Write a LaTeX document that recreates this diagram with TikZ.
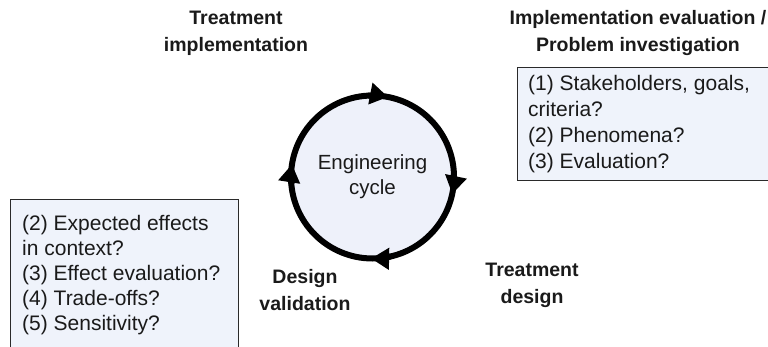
\documentclass[tikz,border=0pt]{standalone}
\usepackage{fontspec}
\setmainfont{Liberation Sans}
\usetikzlibrary{arrows.meta}
\definecolor{boxfill}{HTML}{EFF3FB}
\definecolor{cycfill}{HTML}{EEF1FA}
\definecolor{boxline}{HTML}{2A2A2A}
\definecolor{txt}{HTML}{1A1A1A}
\tikzset{
  phaselabel/.style={align=center, text=txt, inner sep=0pt, font=\bfseries\fontsize{19.5}{27}\selectfont},
  qbox/.style={draw=boxline, fill=boxfill, line width=1.2pt, inner sep=0pt, anchor=north west},
  qtext/.style={align=left, text=txt, inner sep=0pt, anchor=north west},
  cycarrow/.style={line width=6pt, draw=black, -{Triangle[length=18pt,width=21pt]}},
}
\begin{document}
\begin{tikzpicture}[x=1pt,y=1pt]
\useasboundingbox (0,0) rectangle (768,346);
% boxes
\node[qbox, minimum width=228pt, minimum height=170pt] (lbox) at (10,147) {};
\node[qbox, minimum width=252pt, minimum height=113pt] (rbox) at (517,279) {};
\node[qtext, font=\fontsize{21}{25}\selectfont] (ltext) at (22,131.3)
  {(2) Expected effects\\in context?\\(3) Effect evaluation?\\(4) Trade-offs?\\(5) Sensitivity?};
\node[qtext, font=\fontsize{21}{26}\selectfont] (rtext) at (528,270.8)
  {(1) Stakeholders, goals,\\criteria?\\(2) Phenomena?\\(3) Evaluation?};
% cycle
\node[circle, draw=black, line width=6pt, fill=cycfill, minimum size=163pt, inner sep=0pt, outer sep=0pt,
      align=center, text=txt, font=\fontsize{20.5}{25}\selectfont] (cyc) at (372.5,169) {Engineering\\cycle};
\draw[cycarrow] (cyc.93) arc[start angle=93, end angle=79, radius=81.5pt];
\draw[cycarrow] (cyc.2) arc[start angle=2, end angle=-12, radius=81.5pt];
\draw[cycarrow] (cyc.-77) arc[start angle=-77, end angle=-91, radius=81.5pt];
\draw[cycarrow] (cyc.-175) arc[start angle=-175, end angle=-189, radius=81.5pt];
% labels
\node[phaselabel] (timpl) at (236,312.5) {Treatment\\implementation};
\node[phaselabel] (ieval) at (638,312.5) {Implementation evaluation /\\Problem investigation};
\node[phaselabel] (tdes) at (532,60.5) {Treatment\\design};
\node[phaselabel] (dval) at (305,55.5) {Design\\validation};
\end{tikzpicture}
\end{document}
